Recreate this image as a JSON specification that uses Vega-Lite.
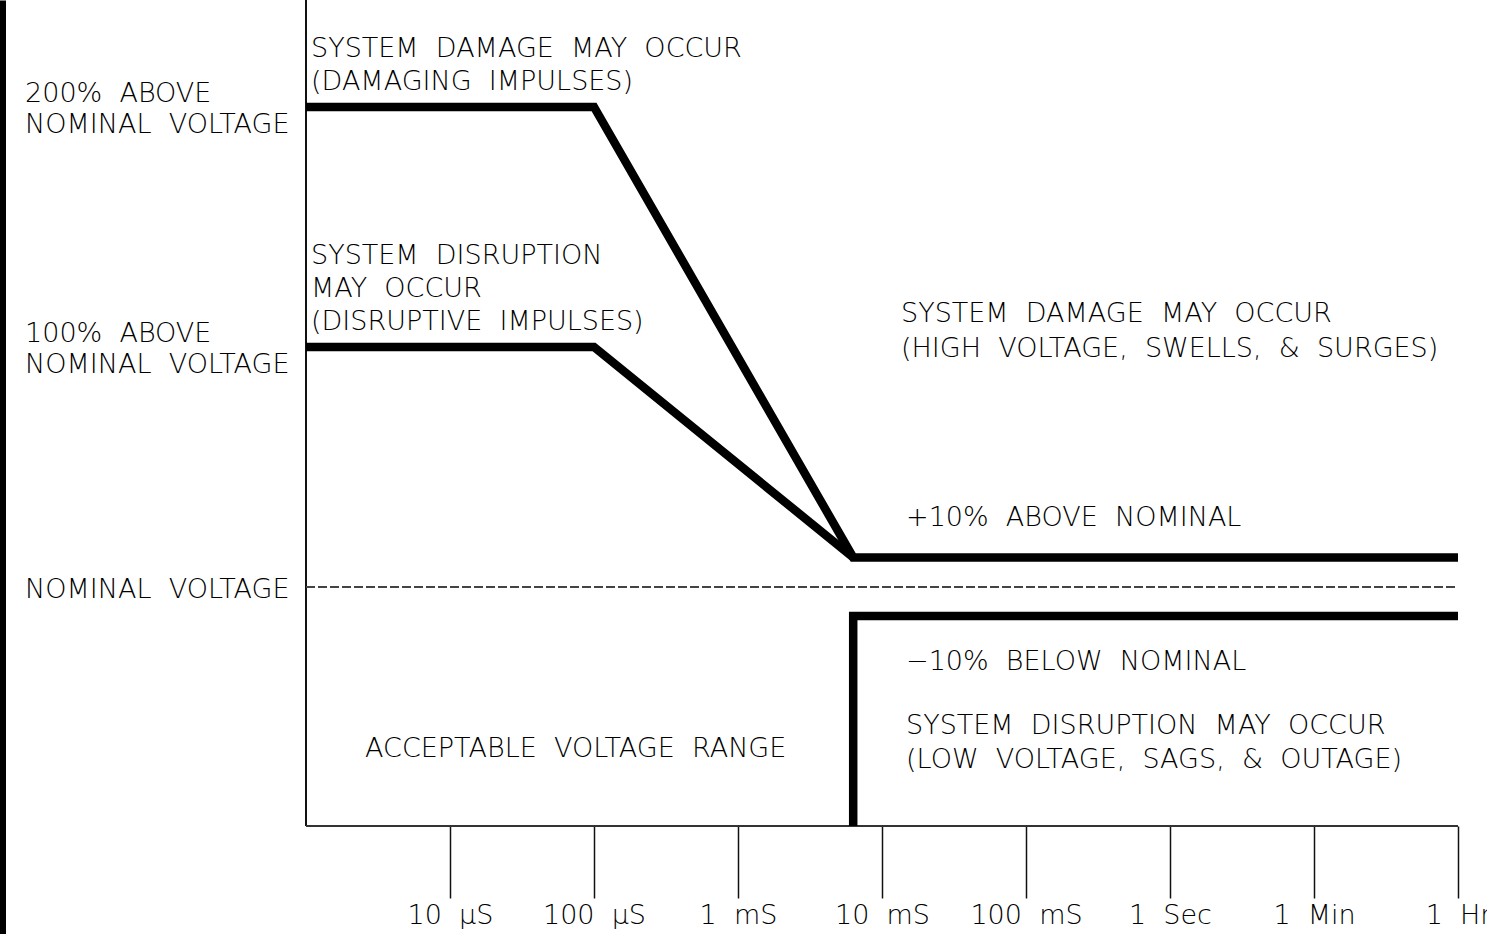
{
  "$schema": "https://vega.github.io/schema/vega-lite/v6.json",
  "width": 1458,
  "height": 934,
  "autosize": {"type": "none"},
  "padding": {"left": 0, "top": 0, "right": 29, "bottom": 0},
  "background": "white",
  "config": {"view": {"stroke": null}, "text": {"font": "DejaVu Sans", "fontWeight": 200}},
  "datasets": {
    "curves": [
      {"series": "damage", "i": 1, "t": 0, "v": 200},
      {"series": "damage", "i": 2, "t": 2, "v": 200},
      {"series": "damage", "i": 3, "t": 3.8, "v": 12.3},
      {"series": "damage", "i": 4, "t": 8, "v": 12.3},
      {"series": "disruption", "i": 1, "t": 0, "v": 100},
      {"series": "disruption", "i": 2, "t": 2, "v": 100},
      {"series": "disruption", "i": 3, "t": 3.8, "v": 12.3},
      {"series": "low", "i": 1, "t": 3.8, "v": -99.58},
      {"series": "low", "i": 2, "t": 3.8, "v": -12.1},
      {"series": "low", "i": 3, "t": 8, "v": -12.1}
    ],
    "labels": [
      {"x": 0.035, "y": 220.83, "text": "SYSTEM \u00a0DAMAGE \u00a0MAY \u00a0OCCUR"},
      {"x": 0.035, "y": 206.88, "text": "(DAMAGING \u00a0IMPULSES)"},
      {"x": -1.951, "y": 202.08, "text": "200% \u00a0ABOVE"},
      {"x": -1.951, "y": 189.17, "text": "NOMINAL \u00a0VOLTAGE"},
      {"x": 0.035, "y": 134.38, "text": "SYSTEM \u00a0DISRUPTION"},
      {"x": 0.035, "y": 121.04, "text": "MAY \u00a0OCCUR"},
      {"x": 0.035, "y": 106.88, "text": "(DISRUPTIVE \u00a0IMPULSES)"},
      {"x": -1.951, "y": 102.29, "text": "100% \u00a0ABOVE"},
      {"x": -1.951, "y": 88.96, "text": "NOMINAL \u00a0VOLTAGE"},
      {"x": 4.132, "y": 110.21, "text": "SYSTEM \u00a0DAMAGE \u00a0MAY \u00a0OCCUR"},
      {"x": 4.132, "y": 96.04, "text": "(HIGH \u00a0VOLTAGE, \u00a0SWELLS, \u00a0& \u00a0SURGES)"},
      {"x": 4.167, "y": 25.21, "text": "+10% \u00a0ABOVE \u00a0NOMINAL"},
      {"x": -1.951, "y": -4.375, "text": "NOMINAL \u00a0VOLTAGE"},
      {"x": 4.167, "y": -34.38, "text": "−10% \u00a0BELOW \u00a0NOMINAL"},
      {"x": 4.167, "y": -61.04, "text": "SYSTEM \u00a0DISRUPTION \u00a0MAY \u00a0OCCUR"},
      {"x": 4.167, "y": -75.21, "text": "(LOW \u00a0VOLTAGE, \u00a0SAGS, \u00a0& \u00a0OUTAGE)"},
      {"x": 0.41, "y": -70.63, "text": "ACCEPTABLE \u00a0VOLTAGE \u00a0RANGE"}
    ],
    "frame": [{"x0": 0, "x1": 8, "ybottom": -99.58, "ytop": 244.58, "nominal": 0}]
  },
  "layer": [
    {
      "data": {"name": "frame"},
      "mark": {"type": "rule", "color": "#111", "strokeWidth": 2},
      "encoding": {
        "x": {
          "field": "x0", "type": "quantitative",
          "scale": {"domain": [-2.125, 8], "nice": false, "zero": false},
          "axis": {
            "orient": "bottom", "offset": -108, "domain": false, "grid": false, "title": null,
            "values": [1, 2, 3, 4, 5, 6, 7, 8],
            "tickSize": 72, "tickWidth": 1.5, "tickColor": "#111",
            "labelExpr": "['','10 \u00a0µS','100 \u00a0µS','1 \u00a0mS','10 \u00a0mS','100 \u00a0mS','1 \u00a0Sec','1 \u00a0Min','1 \u00a0Hr'][datum.value]",
            "labelFont": "DejaVu Sans", "labelFontWeight": 200, "labelFontSize": 27, "labelColor": "black",
            "labelBaseline": "alphabetic", "labelPadding": 25, "labelAlign": "center",
            "labelOverlap": false, "labelBound": false, "labelFlush": false
          }
        },
        "y": {
          "field": "ybottom", "type": "quantitative",
          "scale": {"domain": [-144.58, 244.58], "nice": false, "zero": false},
          "axis": {
            "orient": "left", "domain": true, "domainWidth": 11, "domainColor": "black",
            "ticks": false, "labels": false, "grid": false, "title": null
          }
        },
        "y2": {"field": "ytop"}
      }
    },
    {
      "data": {"name": "frame"},
      "mark": {"type": "rule", "color": "#333", "strokeWidth": 2},
      "encoding": {
        "x": {"field": "x0", "type": "quantitative"},
        "x2": {"field": "x1"},
        "y": {"field": "ybottom", "type": "quantitative"}
      }
    },
    {
      "data": {"name": "frame"},
      "mark": {"type": "rule", "color": "#444", "strokeWidth": 2, "strokeDash": [9, 3]},
      "encoding": {
        "x": {"field": "x0", "type": "quantitative"},
        "x2": {"field": "x1"},
        "y": {"field": "nominal", "type": "quantitative"}
      }
    },
    {
      "data": {"name": "curves"},
      "mark": {"type": "line", "color": "black", "strokeWidth": 8.5, "strokeJoin": "miter", "strokeCap": "butt"},
      "encoding": {
        "x": {"field": "t", "type": "quantitative"},
        "y": {"field": "v", "type": "quantitative"},
        "detail": {"field": "series"},
        "order": {"field": "i"}
      }
    },
    {
      "data": {"name": "labels"},
      "mark": {"type": "text", "align": "left", "baseline": "alphabetic", "fontSize": 27, "color": "black"},
      "encoding": {
        "x": {"field": "x", "type": "quantitative"},
        "y": {"field": "y", "type": "quantitative"},
        "text": {"field": "text"}
      }
    }
  ]
}
